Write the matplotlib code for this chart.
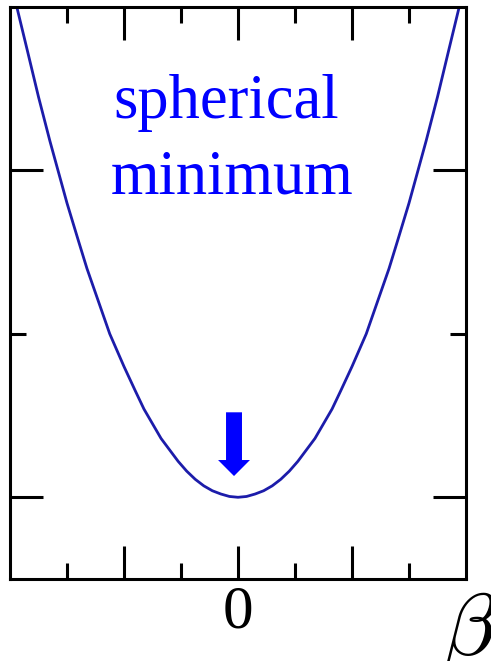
import numpy as np
import matplotlib
matplotlib.use("Agg")
import matplotlib.pyplot as plt

plt.rcParams['font.family'] = ['Liberation Serif', 'DejaVu Serif']
plt.rcParams['mathtext.fontset'] = 'cm'

# energy curve (beta, energy)
beta = [-3.95, -3.7, -3.5, -3.3, -3.15, -3.0, -2.8, -2.65, -2.5, -2.25, -2.15, -2.0, -1.8,
        -1.65, -1.5, -1.35, -1.2, -1.05, -0.9, -0.75, -0.6, -0.45, -0.3, -0.15, 0.0,
        0.15, 0.3, 0.45, 0.6, 0.75, 0.9, 1.05, 1.2, 1.35, 1.5, 1.65, 1.8,
        2.0, 2.15, 2.25, 2.5, 2.65, 2.8, 3.0, 3.15, 3.3, 3.5, 3.7, 3.95]
energy = [3.1, 2.74, 2.45, 2.18, 1.99, 1.8, 1.57, 1.4, 1.25, 1.0, 0.92, 0.8, 0.65,
          0.54, 0.45, 0.36, 0.29, 0.22, 0.16, 0.11, 0.07, 0.04, 0.02, 0.005, 0.0,
          0.005, 0.02, 0.04, 0.07, 0.11, 0.16, 0.22, 0.29, 0.36, 0.45, 0.54, 0.65,
          0.8, 0.92, 1.0, 1.25, 1.4, 1.57, 1.8, 1.99, 2.18, 2.45, 2.74, 3.1]

x_major = [-2, 0, 2]
x_minor = [-3, -1, 1, 3]
x_labels = ['', '0', '']
y_major = [0, 2]
y_minor = [1]

label_lines = ['spherical', 'minimum']

fig = plt.figure(figsize=(4.91, 6.61), dpi=100)
ax = fig.add_axes([10/491, 1-579/661, 456/491, 572/661])

ax.plot(beta, energy, color='#1c1caa', lw=2.0, solid_joinstyle='round')
ax.set_xlim(-4, 4)
ax.set_ylim(-0.5, 3.0)

# arrow pointing at the minimum
ax.arrow(-0.07, 0.52, 0, -0.39, width=0.28, head_width=0.56, head_length=0.098,
         length_includes_head=True, color='#0000ff', lw=0)

ax.text(-2.19, 2.32, label_lines[0], color='#0000ff', fontsize=45, va='baseline', ha='left')
ax.text(-2.23, 1.86, label_lines[1], color='#0000ff', fontsize=45, va='baseline', ha='left')

ax.set_xticks(x_major)
ax.set_xticks(x_minor, minor=True)
ax.set_xticklabels(x_labels, fontsize=44)
ax.set_yticks(y_major)
ax.set_yticks(y_minor, minor=True)
ax.set_yticklabels([])
ax.tick_params(which='both', direction='in', top=True, right=True, width=2.2, color='black')
ax.tick_params(which='major', length=24, pad=4)
ax.tick_params(which='minor', length=11.5)
for s in ax.spines.values():
    s.set_linewidth(2.2)

fig.text(442/491, 1-590/661, r'$\beta$', fontsize=64, va='top', ha='left')

fig.savefig('out.png', dpi=100)
